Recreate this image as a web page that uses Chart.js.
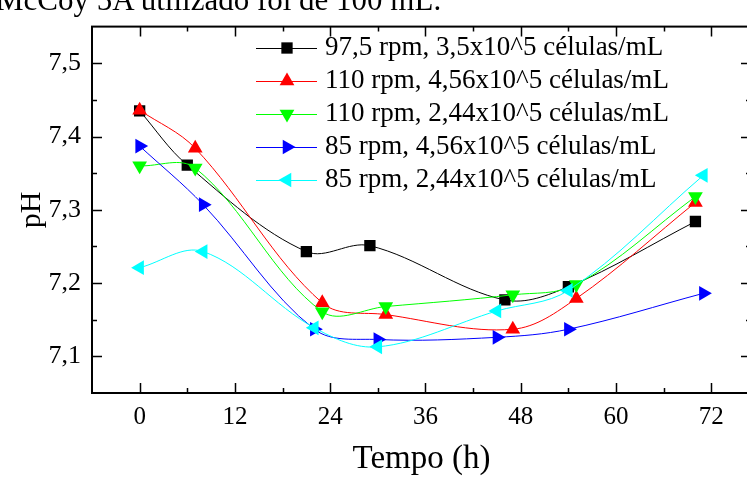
<!DOCTYPE html>
<html>
<head>
<meta charset="utf-8">
<script src="https://cdn.jsdelivr.net/npm/chart.js"></script>
<style>
  html, body { margin: 0; padding: 0; background: #fff; overflow: hidden; }
  #wrap { position: relative; width: 747px; height: 479px; overflow: hidden; }
  #chartPH { position: absolute; left: 0; top: 0; }
  #caption {
    position: absolute; left: -4px; top: -15px; line-height: 30px;
    font-family: 'Liberation Serif', serif; font-size: 31px; color: #000;
    white-space: nowrap;
  }
</style>
</head>
<body>
<div id="wrap">
  <canvas id="chartPH" width="760" height="479"></canvas>
  <div id="caption">McCoy 5A utilizado foi de 100 mL.</div>
</div>
<script>
// tempo (h) e pH de cada ensaio
const tBlack = [0, 6, 21, 29, 46, 54, 70];
const phBlack = [7.435, 7.361, 7.243, 7.251, 7.177, 7.195, 7.284];
const tRed = [0, 7, 23, 31, 47, 55, 70];
const phRed = [7.436, 7.384, 7.173, 7.157, 7.137, 7.179, 7.310];
const tGreen = [0, 7, 23, 31, 47, 55, 70];
const phGreen = [7.360, 7.357, 7.161, 7.168, 7.184, 7.198, 7.318];
const tBlue = [0, 8, 22, 30, 45, 54, 71];
const phBlue = [7.387, 7.307, 7.137, 7.123, 7.126, 7.137, 7.186];
const tCyan = [0, 8, 22, 30, 45, 54, 71];
const phCyan = [7.221, 7.243, 7.139, 7.113, 7.162, 7.190, 7.347];

const seriesLabels = [
    '97,5 rpm, 3,5x10^5 células/mL',
    '110 rpm, 4,56x10^5 células/mL',
    '110 rpm, 2,44x10^5 células/mL',
    '85 rpm, 4,56x10^5 células/mL',
    '85 rpm, 2,44x10^5 células/mL'
];

const xTicks = [0, 12, 24, 36, 48, 60, 72];
const yTicks = [7.1, 7.2, 7.3, 7.4, 7.5];

function toPoints(xs, ys){
    let pts = new Array(xs.length)
    for(let i = 0; i < xs.length; i++){
        pts[i] = {x: xs[i], y: ys[i]}
    }
    return pts
}

function series(label, xs, ys, color, style, rot, order){
    return {
        label: label,
        data: toPoints(xs, ys),
        borderColor: color,
        backgroundColor: color,
        borderWidth: 1,
        tension: 0.35,
        pointStyle: style,
        pointRotation: rot,
        pointRadius: style === 'rect' ? 8 : 8.5,
        pointBorderWidth: 0,
        order: order
    }
}

Chart.defaults.font.family = "'Liberation Serif', 'Times New Roman', serif";
Chart.defaults.color = '#000';

// caixa com marcas para dentro (estilo Origin)
const frameTicks = {
    id: 'frameTicks',
    afterDatasetsDraw(chart){
        const {ctx, chartArea: a, scales} = chart;
        const x = scales.x, y = scales.y;
        ctx.save();
        ctx.strokeStyle = '#000';
        ctx.lineWidth = 1.5;
        ctx.beginPath();
        for(let v = Math.ceil(x.min / 6) * 6; v <= x.max; v += 6){
            const px = Math.round(x.getPixelForValue(v)) + 0.5;
            if(px < a.left + 2 || px > a.right - 2) continue;
            const len = (v % 12 === 0) ? 10 : 5;
            ctx.moveTo(px, a.bottom); ctx.lineTo(px, a.bottom - len);
            ctx.moveTo(px, a.top); ctx.lineTo(px, a.top + len);
        }
        for(let k = Math.ceil(y.min / 0.05 - 1e-6); k * 0.05 <= y.max + 1e-6; k++){
            const py = Math.round(y.getPixelForValue(k * 0.05)) + 0.5;
            if(py < a.top + 2 || py > a.bottom - 2) continue;
            const len = (k % 2 === 0) ? 10 : 5;
            ctx.moveTo(a.left, py); ctx.lineTo(a.left + len, py);
            ctx.moveTo(a.right, py); ctx.lineTo(a.right - len, py);
        }
        ctx.stroke();
        ctx.lineWidth = 2;
        ctx.strokeRect(a.left, a.top, a.right - a.left, a.bottom - a.top);
        ctx.restore();
    }
};

// legenda dentro da area do grafico
const insideLegend = {
    id: 'insideLegend',
    afterDraw(chart){
        const ctx = chart.ctx;
        ctx.save();
        ctx.font = "27px 'Liberation Serif'";
        ctx.textBaseline = 'middle';
        chart.data.datasets.forEach((ds, i) => {
            const cy = 48 + i * 33;
            ctx.strokeStyle = ds.borderColor;
            ctx.lineWidth = 1;
            ctx.beginPath();
            ctx.moveTo(256, cy + 0.5); ctx.lineTo(317, cy + 0.5);
            ctx.stroke();
            ctx.fillStyle = ds.backgroundColor;
            Chart.helpers.drawPoint(ctx, {
                pointStyle: ds.pointStyle,
                rotation: ds.pointRotation,
                radius: ds.pointRadius,
                borderWidth: 0
            }, 287, cy);
            ctx.fillStyle = '#000';
            ctx.fillText(ds.label, 325, cy);
        });
        ctx.restore();
    }
};

const data = {
    datasets: [
        series(seriesLabels[0], tBlack, phBlack, '#000000', 'rect', 0, 5),
        series(seriesLabels[1], tRed, phRed, '#ff0000', 'triangle', 0, 4),
        series(seriesLabels[2], tGreen, phGreen, '#00ff00', 'triangle', 180, 3),
        series(seriesLabels[3], tBlue, phBlue, '#0000ff', 'triangle', 90, 2),
        series(seriesLabels[4], tCyan, phCyan, '#00ffff', 'triangle', -90, 1)
    ]
};

const config = {
    type: 'line',
    data: data,
    plugins: [frameTicks, insideLegend],
    options: {
        responsive: false,
        animation: false,
        layout: {padding: {top: 15, right: 9, bottom: 0, left: 0}},
        plugins: {legend: {display: false}, tooltip: {enabled: false}},
        scales: {
            x: {
                type: 'linear',
                min: -6,
                max: 77,
                afterBuildTicks: s => { s.ticks = xTicks.map(v => ({value: v})) },
                afterFit: s => { s.height = 86 },
                grid: {display: false, drawTicks: false},
                border: {display: false},
                ticks: {font: {size: 25}, color: '#000', padding: 9, autoSkip: false, maxRotation: 0,
                        callback: v => String(v)},
                title: {display: true, text: 'Tempo (h)', font: {size: 33}, color: '#000', padding: 0}
            },
            y: {
                type: 'linear',
                min: 7.05,
                max: 7.55,
                afterBuildTicks: s => { s.ticks = yTicks.map(v => ({value: v})) },
                afterFit: s => { s.width = 92 },
                grid: {display: false, drawTicks: false},
                border: {display: false},
                ticks: {font: {size: 26}, color: '#000', padding: 11, autoSkip: false,
                        callback: v => v.toFixed(1).replace('.', ',')},
                title: {display: true, text: 'pH', font: {size: 30}, color: '#000', padding: {top: 14}}
            }
        }
    }
};

const myChart = new Chart(
    document.getElementById('chartPH'),
    config
);
</script>
</body>
</html>
